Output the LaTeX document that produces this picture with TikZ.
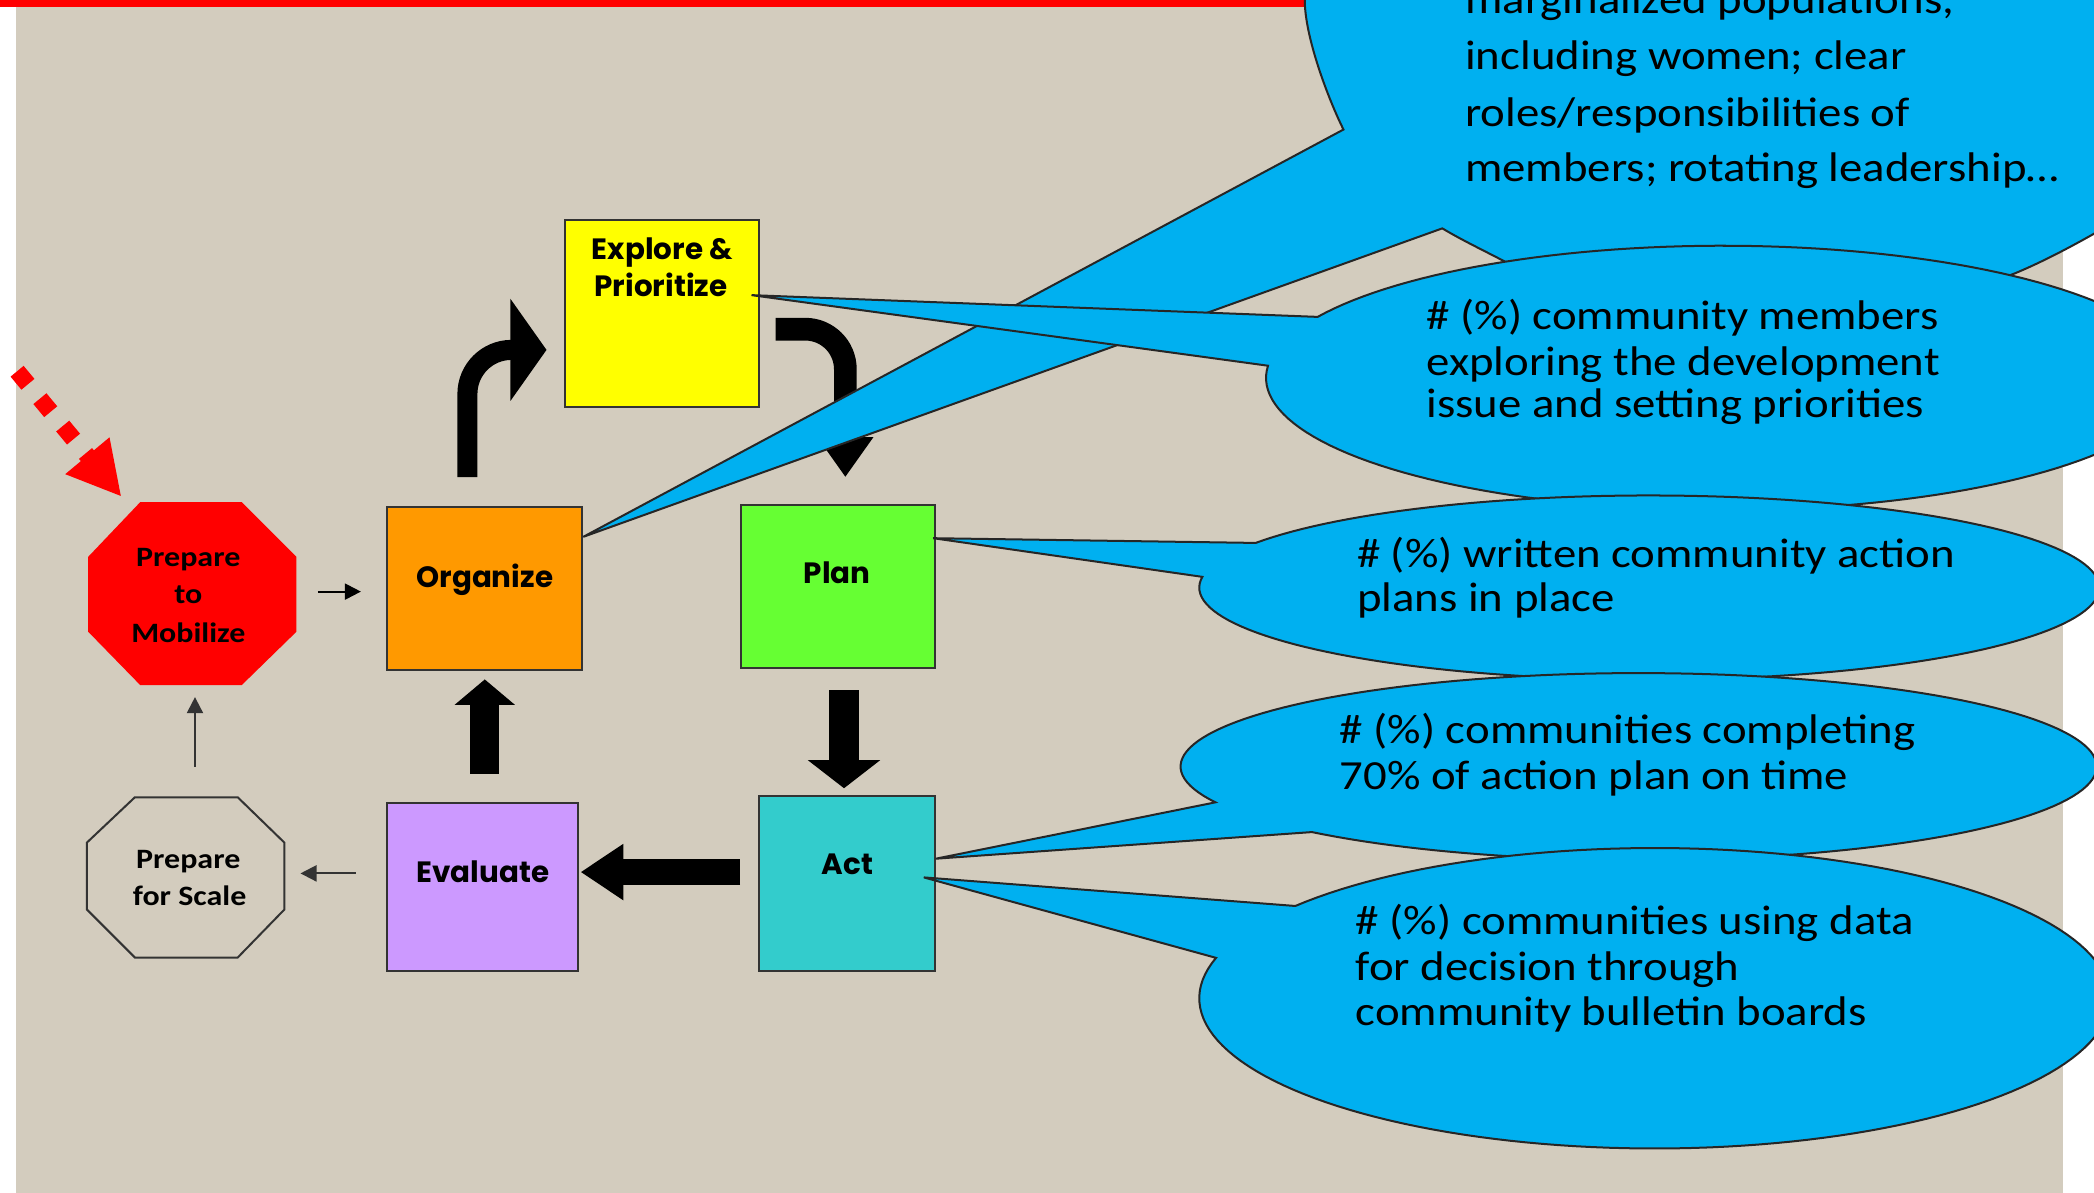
\documentclass[tikz,border=0pt]{standalone}
\usepackage{fontspec}
\setmainfont{Carlito}
\newfontfamily\bubblefont[FakeStretch=1.13]{Carlito}
\newfontfamily\octfont[FakeStretch=1.14]{Carlito}
\newfontfamily\boxfont{Poppins}
\usetikzlibrary{arrows.meta,calc}

\definecolor{bgbeige}{HTML}{D3CCBE}
\definecolor{boxline}{HTML}{333333}
\definecolor{bubbleblue}{HTML}{00B0F0}
\definecolor{bubbleline}{HTML}{262626}
\definecolor{cyorange}{HTML}{FF9900}
\definecolor{cyyellow}{HTML}{FFFF00}
\definecolor{cygreen}{HTML}{66FF33}
\definecolor{cyteal}{HTML}{33CCCC}
\definecolor{cypurple}{HTML}{CC99FF}

\tikzset{
  stagebox/.style={rectangle, draw=boxline, line width=1.5pt, inner sep=0pt},
  octbox/.style={rectangle, inner sep=0pt, outer sep=0pt},
  boxtext/.style={font=\boxfont\bfseries\fontsize{22}{26}\selectfont, inner sep=0pt, anchor=base},
  octtext/.style={font=\octfont\bfseries\fontsize{21}{28}\selectfont, inner sep=0pt, anchor=base},
  bubtext/.style={font=\bubblefont\fontsize{31}{34}\selectfont, inner sep=0pt, anchor=base west},
  bubble/.style={fill=bubbleblue, draw=bubbleline, line width=1.5pt, line join=miter},
  thinarrow/.style={line width=1.5pt, -{Triangle[length=12pt,width=12pt]}},
  blockarrow/.style={black, line width=22pt},
  bendarrow/.style={black},
}

\begin{document}
\begin{tikzpicture}[x=1pt, y=-1pt]
\useasboundingbox (0,0) rectangle (1568,893);
\clip (0,0) rectangle (1568,893);

% slide background
\fill[white] (0,0) rectangle (1568,893);
\fill[bgbeige] (12,5) rectangle (1545,893);
\fill[red] (0,0) rectangle (1568,5);

% stage boxes
\node[stagebox, fill=cyyellow, minimum width=145pt, minimum height=140pt] (expl) at (495.5,235) {};
\node[stagebox, fill=cyorange, minimum width=146pt, minimum height=122pt] (org) at (363,441) {};
\node[stagebox, fill=cygreen, minimum width=145pt, minimum height=122pt] (plan) at (627.5,439) {};
\node[stagebox, fill=cyteal, minimum width=132pt, minimum height=131pt] (act) at (634,661.5) {};
\node[stagebox, fill=cypurple, minimum width=143pt, minimum height=126pt] (eva) at (361.5,664) {};

% octagons
\node[octbox, minimum width=156pt, minimum height=137pt] (mob) at (144,444.5) {};
\node[octbox, minimum width=148pt, minimum height=120pt] (scale) at (139,657) {};
\fill[red] ([xshift=39pt]mob.north west) -- ([xshift=-41pt]mob.north east)
  -- ([yshift=-41pt]mob.north east) -- ([yshift=40pt]mob.south east)
  -- ([xshift=-41pt]mob.south east) -- ([xshift=39pt]mob.south west)
  -- ([yshift=40pt]mob.south west) -- ([yshift=-41pt]mob.north west) -- cycle;
\draw[boxline, line width=1.5pt, line join=miter]
  ([xshift=36pt]scale.north west) -- ([xshift=-35pt]scale.north east)
  -- ([yshift=-34pt]scale.north east) -- ([yshift=36pt]scale.south east)
  -- ([xshift=-35pt]scale.south east) -- ([xshift=36pt]scale.south west)
  -- ([yshift=36pt]scale.south west) -- ([yshift=-34pt]scale.north west) -- cycle;

% labels
\node[boxtext] (explA) at (496,194) {Explore \&};
\node[boxtext] (explB) at (495,222) {Prioritize};
\node[boxtext] (orgT) at (363,440) {Organize};
\node[boxtext] (planT) at (627,437) {Plan};
\node[boxtext] (actT) at (634.5,655) {Act};
\node[boxtext] (evaT) at (361.5,661) {Evaluate};
\node[octtext] (mobA) at (141,424) {Prepare};
\node[octtext] (mobB) at (141,452) {to};
\node[octtext] (mobC) at (141,481) {Mobilize};
\node[octtext] (scaleA) at (141,650) {Prepare};
\node[octtext] (scaleB) at (142,678) {for Scale};

% thin connectors
\draw[thinarrow, black, shorten <=16pt, shorten >=19pt] ([yshift=1.5pt]mob.east) -- ([yshift=1.5pt]mob.east -| org.west);
\draw[thinarrow, boxline, shorten <=23pt, shorten >=12pt] ([yshift=3pt]eva.west |- scale.east) -- ([yshift=3pt]scale.east);
\draw[thinarrow, boxline, shorten <=23pt, shorten >=9pt] ([xshift=7pt]scale.north) -- ([xshift=2pt]mob.south);

% block arrows of the cycle
\draw[blockarrow, -{Triangle[length=19pt,width=44pt]}, shorten <=21pt, shorten >=6pt]
  ([xshift=1.5pt]eva.north) -- (org.south);
\draw[black, line width=23pt, -{Triangle[length=21pt,width=53pt]}, shorten <=16pt, shorten >=5pt]
  ([xshift=4.5pt]plan.south) -- ([xshift=-2pt]act.north);
\draw[black, line width=20pt, -{Triangle[length=32pt,width=40pt]}, shorten <=13pt, shorten >=1pt]
  ([yshift=8.5pt]act.west) -- ([yshift=11pt]eva.east);
\draw[bendarrow, line width=15pt, rounded corners=33pt, shorten <=22pt, shorten >=13pt,
  -{Triangle[length=27pt,width=75pt]}]
  ([xshift=-13pt]org.north) |- ([yshift=-27pt]expl.west);
\draw[bendarrow, line width=17pt, rounded corners=30pt, shorten <=12pt, shorten >=20pt,
  -{Triangle[length=30pt,width=40pt]}]
  ([yshift=-11.5pt]expl.east) -| ([xshift=5.5pt]plan.north);

% incoming dashed arrow
\coordinate (redstart) at (12.8,278);
\coordinate (redtip) at (91,372);
\draw[red, line width=12.7pt, dash pattern=on 12.7pt off 14pt,
  -{Triangle[length=40pt,width=40pt]}] (redstart) -- (redtip);

% indicator callouts
\filldraw[bubble] ([yshift=39pt]org.east) -- (1006,97)
  .. controls (995,75) and (977,28) .. (977,0)
  .. controls (977,-40) and (1000,-80) .. (1100,-80) -- (1700,-80) -- (1700,120)
  .. controls (1650,140) and (1600,160) .. (1568,175)
  .. controls (1545,188) and (1525,198) .. (1508,205)
  .. controls (1400,245) and (1200,240) .. (1129,197)
  .. controls (1110,187) and (1095,180) .. (1080,171) -- cycle;
\node[bubtext] (c1a) at (1097,10) {marginalized populations,};
\node[bubtext] (c1b) at (1097,52) {including women; clear};
\node[bubtext] (c1c) at (1097,95) {roles/responsibilities of};
\node[bubtext] (c1d) at (1097,136) {members; rotating leadership…};

\filldraw[bubble] ([xshift=-6pt,yshift=14pt]expl.east)
  -- plot[domain=207.5:545.3, samples=160] ({1290+342*cos(\x)},{283+99*sin(\x)}) -- cycle;
\node[bubtext] (c2a) at (1068,247) {\# (\%) community members};
\node[bubtext] (c2b) at (1068,281) {exploring the development};
\node[bubtext] (c2c) at (1068,313) {issue and setting priorities};

\filldraw[bubble] ([xshift=-2pt,yshift=36pt]plan.east)
  -- plot[domain=209:546.7, samples=160] ({1235+337*cos(\x)},{440+69*sin(\x)}) -- cycle;
\node[bubtext] (c3a) at (1016,425) {\# (\%) written community action};
\node[bubtext] (c3b) at (1016,458) {plans in place};

\filldraw[bubble] ([yshift=18.5pt]act.east)
  -- plot[domain=157.5:495.5, samples=160] ({1227+343*cos(\x)},{574+70*sin(\x)}) -- cycle;
\node[bubtext] (c4a) at (1003,557) {\# (\%) communities completing};
\node[bubtext] (c4b) at (1003,591) {70\% of action plan on time};

\filldraw[bubble] ([xshift=-9pt,yshift=4.5pt]act.east)
  -- plot[domain=217.9:555.6, samples=160] ({1239+341*cos(\x)},{747.5+112.5*sin(\x)}) -- cycle;
\node[bubtext] (c5a) at (1015,700) {\# (\%) communities using data};
\node[bubtext] (c5b) at (1015,734) {for decision through};
\node[bubtext] (c5c) at (1015,768) {community bulletin boards};
\end{tikzpicture}
\end{document}
